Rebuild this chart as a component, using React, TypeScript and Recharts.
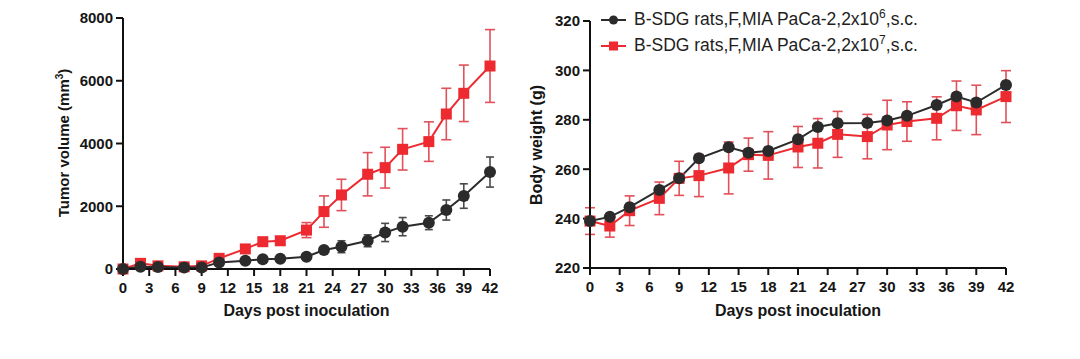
import React from 'react';
import { LineChart, Line, XAxis, YAxis, ErrorBar, Label } from 'recharts';

const days = [0, 2, 4, 7, 9, 11, 14, 16, 18, 21, 23, 25, 28, 30, 32, 35, 37, 39, 42];
const dayTicks = [0, 3, 6, 9, 12, 15, 18, 21, 24, 27, 30, 33, 36, 39, 42];
const volumeTicks = [0, 2000, 4000, 6000, 8000];
const weightTicks = [220, 240, 260, 280, 300, 320];

// tumor volume (mm3), mean and SEM
const volumeLow = [0, 70, 60, 50, 50, 210, 265, 310, 330, 390, 605, 710, 900, 1165, 1350, 1475, 1880, 2325, 3090];
const volumeLowErr = [0, 30, 20, 20, 20, 30, 30, 40, 40, 60, 100, 190, 190, 290, 290, 220, 320, 390, 480];
const volumeHigh = [0, 180, 100, 70, 100, 340, 640, 870, 900, 1240, 1830, 2360, 3020, 3230, 3815, 4060, 4940, 5600, 6470];
const volumeHighErr = [0, 80, 40, 30, 40, 60, 60, 130, 130, 240, 500, 500, 690, 650, 660, 630, 820, 900, 1160];

// body weight (g), mean and SEM
const weightLow = [239, 240.7, 244.6, 251.6, 256.3, 264.4, 268.9, 266.7, 267.4, 272.1, 277.1, 278.6, 278.7, 279.7, 281.6, 286, 289.4, 287, 294.1];
const weightLowErr = [1.5, 1.5, 1.5, 1.5, 1.5, 1.5, 1.5, 1.5, 1.5, 1.5, 1.5, 1.5, 1.5, 1.5, 1.5, 1.5, 1.5, 1.5, 1.5];
const weightHigh = [239, 237, 243.2, 248.2, 256.3, 257.4, 260.5, 265.9, 265.6, 269, 270.5, 274.1, 273.2, 277.9, 279.3, 280.6, 285.7, 284, 289.4];
const weightHighErr = [5.4, 4.5, 6, 6.6, 6.9, 8.5, 10.5, 6.7, 9.6, 8.3, 10, 9.3, 9, 10, 8, 8.7, 10, 10, 10.5];

const groups = [
  { name: 'B-SDG rats,F,MIA PaCa-2,2x10', exp: '6', tail: ',s.c.' },
  { name: 'B-SDG rats,F,MIA PaCa-2,2x10', exp: '7', tail: ',s.c.' },
];

const BLACK = '#2b2b2b';
const RED = '#ec2a30';
const RED_ERR = '#e2505a';
const FONT = '"Liberation Sans", Arial, sans-serif';

const rows = (vals: number[], errs: number[]) =>
  days.map((d, i) => ({ day: d, value: vals[i], err: errs[i] }));

const Circle = (props: any) => {
  const { cx, cy, index } = props;
  return <circle key={`c${index}`} cx={cx} cy={cy} r={6} fill={BLACK} />;
};

const Square = (props: any) => {
  const { cx, cy, index } = props;
  return <rect key={`s${index}`} x={cx - 5.5} y={cy - 5.5} width={11} height={11} fill={RED} />;
};

const axisStyle = { stroke: '#111', strokeWidth: 2 };
const tickStyle = { fontSize: 15, fontWeight: 700, fill: '#161616', fontFamily: FONT };

const xLabel = (props: any) => {
  const { viewBox } = props;
  return (
    <text x={viewBox.x + viewBox.width / 2} y={316} textAnchor="middle"
      style={{ fontSize: 16, fontWeight: 700, fontFamily: FONT, fill: '#161616' }}>
      Days post inoculation
    </text>
  );
};

const volumeLabel = () => (
  <text x={69} y={143} transform="rotate(-90, 69, 143)" textAnchor="middle"
    style={{ fontSize: 15, fontWeight: 700, fontFamily: FONT, fill: '#161616' }}>
    Tumor volume (mm<tspan fontSize={10} dy={-6}>3</tspan><tspan dy={6}>)</tspan>
  </text>
);

const weightLabel = () => (
  <text x={22} y={145} transform="rotate(-90, 22, 145)" textAnchor="middle"
    style={{ fontSize: 16, fontWeight: 700, fontFamily: FONT, fill: '#161616' }}>
    Body weight (g)
  </text>
);

const LegendRow = ({ idx }: { idx: number }) => {
  const g = groups[idx];
  return (
    <div style={{ display: 'flex', alignItems: 'center', height: 26 }}>
      <svg width={26} height={14} style={{ marginRight: 7 }}>
        <line x1={0} y1={7} x2={25} y2={7} stroke={idx === 0 ? BLACK : RED} strokeWidth={2} />
        {idx === 0
          ? <circle cx={12.5} cy={7} r={4.5} fill={BLACK} />
          : <rect x={8} y={2.5} width={9} height={9} fill={RED} />}
      </svg>
      <span>
        {g.name}
        <span style={{ fontSize: 12, position: 'relative', top: -7 }}>{g.exp}</span>
        {g.tail}
      </span>
    </div>
  );
};

export default function App() {
  return (
    <div style={{ position: 'absolute', left: 0, top: 0, width: 1080, height: 359, background: '#fff', fontFamily: FONT }}>
      <div style={{ position: 'absolute', left: 0, top: 0 }}>
        <LineChart width={520} height={359} margin={{ top: 18, right: 30, left: 63, bottom: 40 }}>
          <XAxis type="number" dataKey="day" domain={[0, 42]} ticks={dayTicks} interval={0}
            axisLine={axisStyle} tickLine={axisStyle} tickSize={7} tickMargin={6} tick={tickStyle} height={50}>
            <Label content={xLabel} />
          </XAxis>
          <YAxis type="number" domain={[0, 8000]} ticks={volumeTicks} interval={0} width={60}
            axisLine={axisStyle} tickLine={axisStyle} tickSize={7} tickMargin={3} tick={tickStyle}>
            <Label content={volumeLabel} />
          </YAxis>
          <Line data={rows(volumeHigh, volumeHighErr)} dataKey="value" stroke={RED} strokeWidth={2}
            dot={Square} activeDot={false} isAnimationActive={false}>
            <ErrorBar dataKey="err" direction="y" width={5} stroke={RED_ERR} strokeWidth={1.6} />
          </Line>
          <Line data={rows(volumeLow, volumeLowErr)} dataKey="value" stroke={BLACK} strokeWidth={2}
            dot={Circle} activeDot={false} isAnimationActive={false}>
            <ErrorBar dataKey="err" direction="y" width={4} stroke="#4a4a4a" strokeWidth={1.6} />
          </Line>
        </LineChart>
      </div>
      <div style={{ position: 'absolute', left: 520, top: 0 }}>
        <LineChart width={540} height={359} margin={{ top: 21, right: 54, left: 10, bottom: 41 }}>
          <XAxis type="number" dataKey="day" domain={[0, 42]} ticks={dayTicks} interval={0}
            axisLine={axisStyle} tickLine={axisStyle} tickSize={7} tickMargin={6} tick={tickStyle} height={50}>
            <Label content={xLabel} />
          </XAxis>
          <YAxis type="number" domain={[220, 320]} ticks={weightTicks} interval={0} width={60}
            axisLine={axisStyle} tickLine={axisStyle} tickSize={7} tickMargin={3} tick={tickStyle}>
            <Label content={weightLabel} />
          </YAxis>
          <Line data={rows(weightHigh, weightHighErr)} dataKey="value" stroke={RED} strokeWidth={2}
            dot={Square} activeDot={false} isAnimationActive={false}>
            <ErrorBar dataKey="err" direction="y" width={5} stroke={RED_ERR} strokeWidth={1.6} />
          </Line>
          <Line data={rows(weightLow, weightLowErr)} dataKey="value" stroke={BLACK} strokeWidth={2}
            dot={Circle} activeDot={false} isAnimationActive={false}>
            <ErrorBar dataKey="err" direction="y" width={4} stroke="#4a4a4a" strokeWidth={1.6} />
          </Line>
        </LineChart>
      </div>
      <div style={{ position: 'absolute', left: 601, top: 7, fontSize: 17.5, color: '#1e1e1e', lineHeight: '26px' }}>
        <LegendRow idx={0} />
        <LegendRow idx={1} />
      </div>
    </div>
  );
}
